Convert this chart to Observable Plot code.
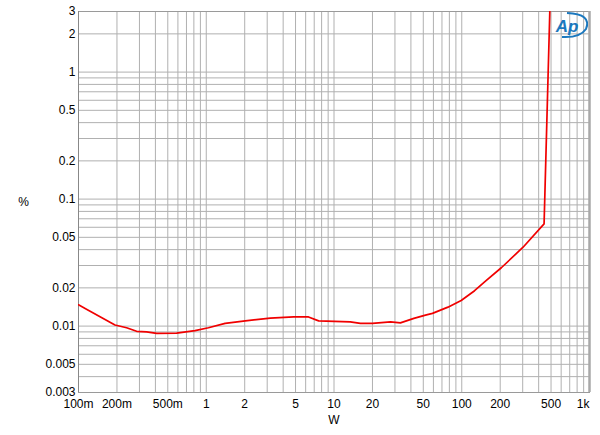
<!DOCTYPE html>
<html>
<head>
<meta charset="utf-8">
<script src="https://cdn.jsdelivr.net/npm/d3@7"></script>
<script src="https://cdn.jsdelivr.net/npm/@observablehq/plot@0.6"></script>
<style>
  html, body { margin: 0; padding: 0; background: #fff; }
</style>
</head>
<body>
<div id="chart"></div>
<script>
const power = [0.1, 0.1155, 0.193, 0.238, 0.285, 0.341, 0.409, 0.587, 0.817, 1.04, 1.405, 2.02, 3.17, 4.83, 6.32, 7.58, 13.4, 16.1, 20, 27.7, 33.1, 42.2, 52, 59, 78, 99, 126, 155, 204, 302, 441, 489];
const thd   = [0.0147, 0.0136, 0.0102, 0.0097, 0.0091, 0.0090, 0.00875, 0.0088, 0.0092, 0.0097, 0.0105, 0.0110, 0.01154, 0.01183, 0.0118, 0.0110, 0.0108, 0.0105, 0.0105, 0.0108, 0.0106, 0.0115, 0.0122, 0.0126, 0.0141, 0.0159, 0.0190, 0.0228, 0.0288, 0.0418, 0.0638, 3.0];

const xTicks = [0.1, 0.2, 0.5, 1, 2, 5, 10, 20, 50, 100, 200, 500, 1000];
const xTickLabels = ["100m", "200m", "500m", "1", "2", "5", "10", "20", "50", "100", "200", "500", "1k"];
const yTicks = [0.003, 0.005, 0.01, 0.02, 0.05, 0.1, 0.2, 0.5, 1, 2, 3];
const yTickLabels = ["0.003", "0.005", "0.01", "0.02", "0.05", "0.1", "0.2", "0.5", "1", "2", "3"];

const xDomain = [0.1, 1000];
const yDomain = [0.003, 3];

// log grid lines (1..9 per decade)
function logGrid(lo, hi) {
  const out = [];
  for (let e = Math.floor(Math.log10(lo)); e <= Math.ceil(Math.log10(hi)); e++) {
    for (let m = 1; m <= 9; m++) {
      const v = +(m * Math.pow(10, e)).toPrecision(6);
      if (v >= lo * 0.9999 && v <= hi * 1.0001) out.push(v);
    }
  }
  return out;
}
const xGrid = logGrid(xDomain[0], xDomain[1]);
const yGrid = logGrid(yDomain[0], yDomain[1]);

const data = power.map((p, i) => ({p, t: thd[i]}));
const xLab = xTicks.map((v, i) => ({v, s: xTickLabels[i]}));
const yLab = yTicks.map((v, i) => ({v, s: yTickLabels[i]}));
const xMain = xLab.slice(0, -1), xLast = xLab.slice(-1);

const font = "'Liberation Sans', Arial, sans-serif";

const chart = Plot.plot({
  width: 600,
  height: 435,
  marginLeft: 78,
  marginTop: 11,
  marginRight: 11,
  marginBottom: 43,
  style: {fontFamily: font, fontSize: "12px", background: "#fff", color: "#000"},
  x: {type: "log", domain: xDomain, axis: null},
  y: {type: "log", domain: yDomain, axis: null},
  marks: [
    Plot.ruleX(xGrid, {stroke: "#b0b0b0", strokeWidth: 1}),
    Plot.ruleY(yGrid, {stroke: "#b0b0b0", strokeWidth: 1}),
    Plot.frame({stroke: "#9a9a9a"}),
    Plot.ruleX([xDomain[1]], {stroke: "#a8a8a8", strokeWidth: 2.5}),
    Plot.ruleX([xDomain[0]], {stroke: "#888"}),
    // x tick labels
    Plot.text(xMain, {x: "v", text: "s", frameAnchor: "bottom", lineAnchor: "top", textAnchor: "middle", dy: 7, fill: "#000", fontSize: 12}),
    Plot.text(xLast, {x: "v", text: "s", frameAnchor: "bottom", lineAnchor: "top", textAnchor: "end", dy: 7, fill: "#000", fontSize: 12}),
    // y tick labels
    Plot.text(yLab, {y: "v", text: "s", frameAnchor: "left", textAnchor: "end", lineAnchor: "middle", dx: -3, fill: "#000", fontSize: 12}),
    Plot.line(data, {x: "p", y: "t", stroke: "#f00000", strokeWidth: 1.7, clip: true}),
    Plot.text(["%"], {frameAnchor: "left", textAnchor: "middle", dx: -55, fill: "#000", fontSize: 12}),
    Plot.text(["W"], {frameAnchor: "bottom", lineAnchor: "middle", dy: 28, fill: "#000", fontSize: 12}),
    Plot.text(["Ap"], {frameAnchor: "top-right", textAnchor: "end", lineAnchor: "top", dx: -11, dy: 8, fill: "#1b78be", fontSize: 17, fontStyle: "italic", fontWeight: "bold", fontFamily: font})
  ]
});

document.getElementById("chart").appendChild(chart);

// logo swoosh decoration
d3.select(chart).append("path")
  .attr("d", "M567,13 Q592,14 586,29 Q580,38 562,37")
  .attr("fill", "none")
  .attr("stroke", "#1b78be")
  .attr("stroke-width", 2);
</script>
</body>
</html>
